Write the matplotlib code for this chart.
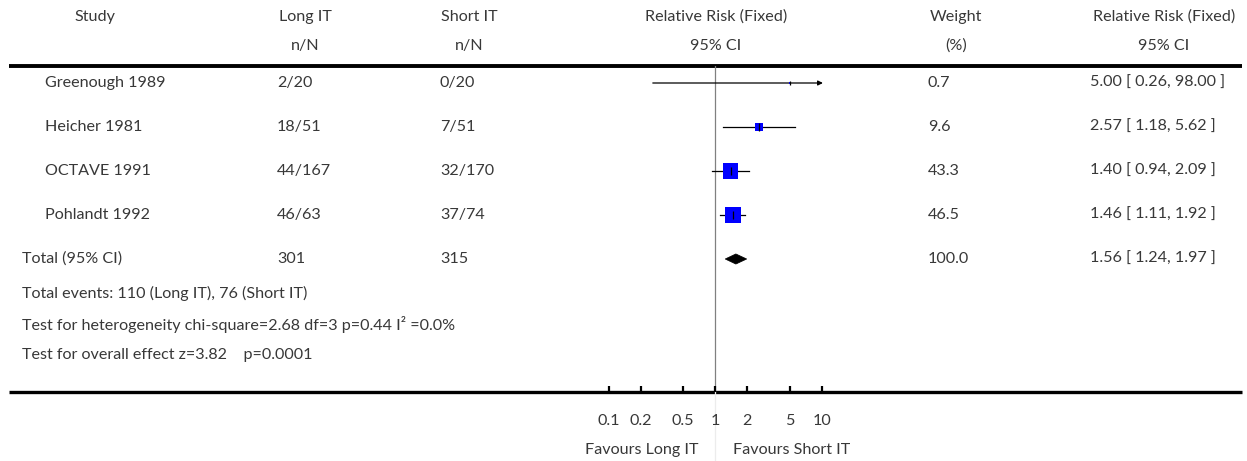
import numpy as np
import matplotlib.pyplot as plt
import matplotlib.transforms as mtransforms
from matplotlib.patches import Polygon

plt.rcParams['font.family'] = ['Lato', 'DejaVu Sans']
TXT = '#383838'
FS = 11.6

# Trial data
studies = ["Greenough 1989", "Heicher 1981", "OCTAVE 1991", "Pohlandt 1992"]
long_n = [2, 18, 44, 46]
long_N = [20, 51, 167, 63]
short_n = [0, 7, 32, 37]
short_N = [20, 51, 170, 74]
rr = [5.00, 2.57, 1.40, 1.46]
rr_lo = [0.26, 1.18, 0.94, 1.11]
rr_hi = [98.00, 5.62, 2.09, 1.92]
weight = [0.7, 9.6, 43.3, 46.5]

# Pooled result
total_long_N = 301
total_short_N = 315
total_long_events = 110
total_short_events = 76
total_weight = 100.0
total_rr, total_lo, total_hi = 1.56, 1.24, 1.97
chi2, df, p_het, i2 = 2.68, 3, 0.44, 0.0
z_overall, p_overall = 3.82, 0.0001

xticks = [0.1, 0.2, 0.5, 1, 2, 5, 10]
xticklabels = ["0.1", "0.2", "0.5", "1", "2", "5", "10"]
x_min, x_max = 0.1, 10

W, H = 1247, 461
fig = plt.figure(figsize=(W / 100, H / 100), dpi=100)

# full-figure overlay in pixel units for the table
ov = fig.add_axes([0, 0, 1, 1])
ov.set_xlim(0, W)
ov.set_ylim(H, 0)
ov.axis('off')

top_line, axis_line = 66, 392
row_y0, row_step = 83, 44

# forest plot axes
left_px, right_px = 608.5, 822
ax = fig.add_axes([left_px / W, 1 - axis_line / H, (right_px - left_px) / W, (axis_line - top_line) / H])
ax.set_xscale('log')
ax.set_xlim(x_min, x_max)
ax.set_ylim((axis_line - row_y0) / row_step, (top_line - row_y0) / row_step)
for s in ax.spines.values():
    s.set_visible(False)
ax.patch.set_alpha(0)
ax.set_yticks([])
ax.set_xticks(xticks)
ax.set_xticklabels(xticklabels, color=TXT, fontsize=FS)
ax.minorticks_off()
ax.tick_params(axis='x', direction='in', length=4.5, width=1.6, color='black', pad=16)

# line of no effect
ax.axvline(1, color='#808080', lw=0.9, zorder=1)
ax.plot([1, 1], [(axis_line - row_y0) / row_step, (H - row_y0) / row_step],
        color='#ececec', lw=0.9, clip_on=False, zorder=1)

rows = np.arange(len(studies))
for i in rows:
    lo, hi = rr_lo[i], rr_hi[i]
    if hi > x_max:
        ax.annotate('', xy=(x_max * 1.02, i), xytext=(lo, i),
                    arrowprops=dict(arrowstyle='-|>', lw=0.9, color='black',
                                    mutation_scale=7, shrinkA=0, shrinkB=0),
                    annotation_clip=False, zorder=2)
    else:
        ax.plot([lo, hi], [i, i], color='black', lw=0.9, zorder=2)

# squares sized by weight
side_pt = 1.65 * np.sqrt(weight)
ax.scatter(rr, rows, marker='s', s=side_pt ** 2, color='#0000ff', linewidths=0, zorder=3)
ax.scatter(rr, rows, marker='|', s=np.where(np.array(weight) < 1, 8, 28),
           color='black', linewidths=0.9, zorder=4)

# pooled diamond
ty = len(studies)
hh = 0.115
ax.add_patch(Polygon([(total_lo, ty), (total_rr, ty - hh), (total_hi, ty), (total_rr, ty + hh)],
                     closed=True, facecolor='black', edgecolor='black', lw=0.5, zorder=3))

# favours labels
blend = mtransforms.blended_transform_factory(ax.transData, ov.transData)
ax.annotate("Favours Long IT", xy=(1, 450), xycoords=blend, xytext=(-17, 0),
            textcoords='offset pixels', ha='right', va='center', color=TXT, fontsize=FS)
ax.annotate("Favours Short IT", xy=(1, 450), xycoords=blend, xytext=(18, 0),
            textcoords='offset pixels', ha='left', va='center', color=TXT, fontsize=FS)

# horizontal rules
ov.plot([9, 1242], [top_line, top_line], color='black', lw=2.8, solid_capstyle='butt')
ov.plot([9, 1242], [axis_line, axis_line], color='black', lw=2.4, solid_capstyle='butt')

# headers
col_study, col_long, col_short, col_w, col_rr = 45, 277, 440, 928, 1090
hdr = [(95, "Study", ""), (305, "Long IT", "n/N"), (469, "Short IT", "n/N"),
       (716, "Relative Risk (Fixed)", "95% CI"), (956, "Weight", "(%)"),
       (1164, "Relative Risk (Fixed)", "95% CI")]
for x, a, b in hdr:
    ov.text(x, 17, a, ha='center', va='center', color=TXT, fontsize=FS)
    if b:
        ov.text(x, 46, b, ha='center', va='center', color=TXT, fontsize=FS)

for i in rows:
    y = row_y0 + row_step * i
    ov.text(col_study, y, studies[i], va='center', color=TXT, fontsize=FS)
    ov.text(col_long, y, f"{long_n[i]}/{long_N[i]}", va='center', color=TXT, fontsize=FS)
    ov.text(col_short, y, f"{short_n[i]}/{short_N[i]}", va='center', color=TXT, fontsize=FS)
    ov.text(col_w, y, f"{weight[i]:.1f}", va='center', color=TXT, fontsize=FS)
    ov.text(col_rr, y, f"{rr[i]:.2f} [ {rr_lo[i]:.2f}, {rr_hi[i]:.2f} ]", va='center', color=TXT, fontsize=FS)

y = row_y0 + row_step * ty
ov.text(22, y, "Total (95% CI)", va='center', color=TXT, fontsize=FS)
ov.text(col_long, y, f"{total_long_N}", va='center', color=TXT, fontsize=FS)
ov.text(col_short, y, f"{total_short_N}", va='center', color=TXT, fontsize=FS)
ov.text(col_w, y, f"{total_weight:.1f}", va='center', color=TXT, fontsize=FS)
ov.text(col_rr, y, f"{total_rr:.2f} [ {total_lo:.2f}, {total_hi:.2f} ]", va='center', color=TXT, fontsize=FS)

notes = [
    f"Total events: {total_long_events} (Long IT), {total_short_events} (Short IT)",
    f"Test for heterogeneity chi-square={chi2:.2f} df={df} p={p_het:.2f} I\u00b2 ={i2:.1f}%",
    f"Test for overall effect z={z_overall:.2f}    p={p_overall:.4f}",
]
for k, t in enumerate(notes):
    ov.text(22, 293 + 31 * k, t, va='center', color=TXT, fontsize=FS)

fig.savefig('out.png', dpi=100)
